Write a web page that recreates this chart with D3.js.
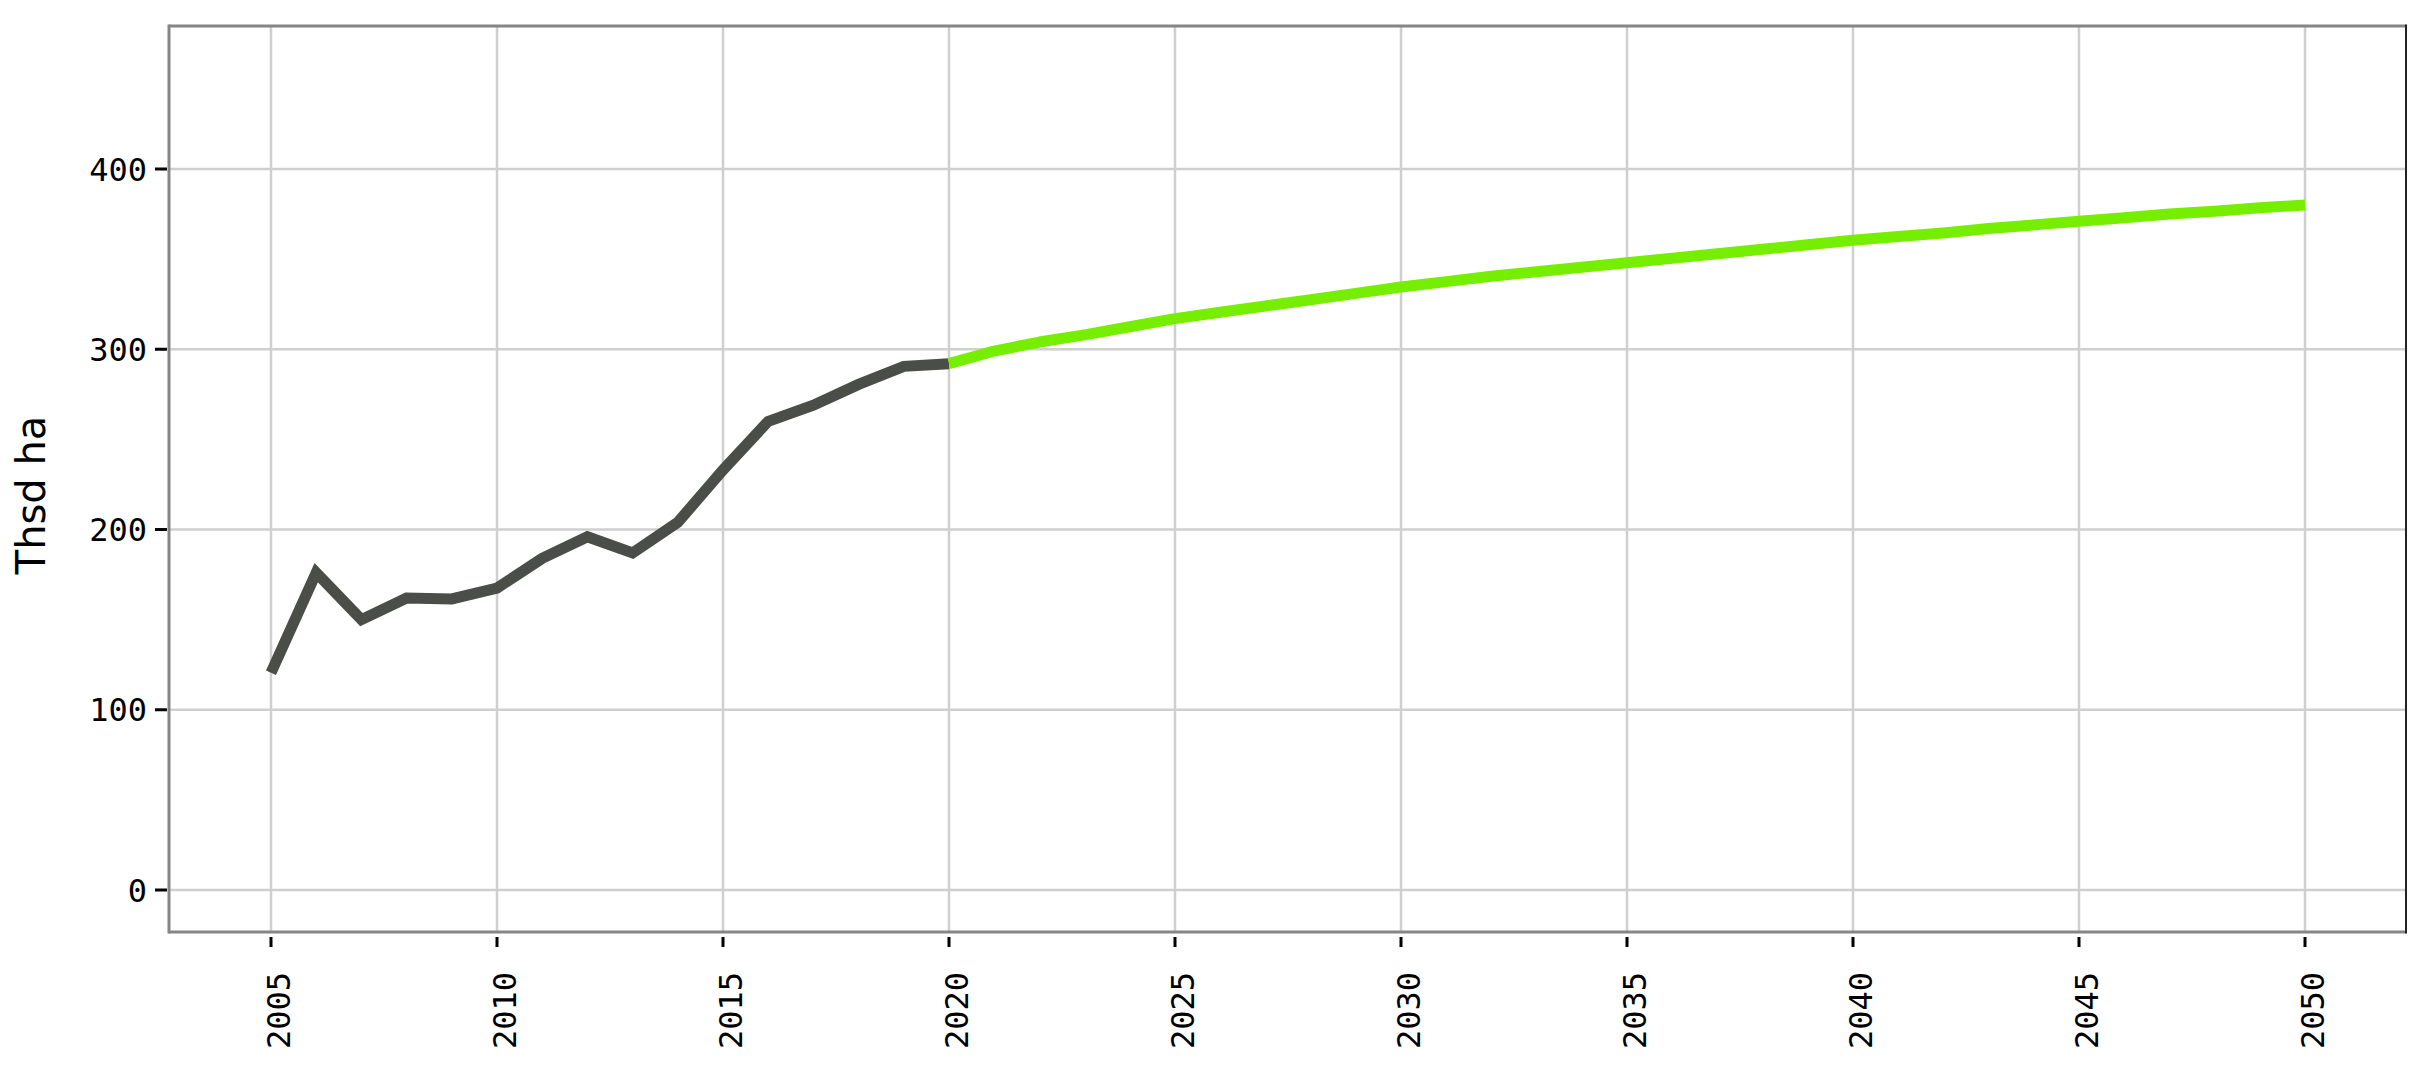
<!DOCTYPE html>
<html>
<head>
<meta charset="utf-8">
<script src="https://cdn.jsdelivr.net/npm/d3@7"></script>
<style>
  html, body { margin: 0; padding: 0; background: #ffffff; }
  svg { display: block; }
</style>
</head>
<body>
<script>
// ---- data ----
const histYears = [2005,2006,2007,2008,2009,2010,2011,2012,2013,2014,2015,2016,2017,2018,2019,2020];
const histValues = [120.5,176,150,162,161.5,167.5,184,196,187,204,233,260,269,280.5,290.5,292];
const projYears = [2020,2021,2022,2023,2024,2025,2026,2027,2028,2029,2030,2031,2032,2033,2034,2035,2036,2037,2038,2039,2040,2041,2042,2043,2044,2045,2046,2047,2048,2049,2050];
const projValues = [292,299,304,308,312.5,317,320.5,324,327.5,331,334.5,337.5,340.5,343,345.5,348,350.5,353,355.5,358,360.5,362.5,364.5,367,369,371,373,375,376.5,378.5,380];
const xTicks = [2005,2010,2015,2020,2025,2030,2035,2040,2045,2050];
const yTicks = [0,100,200,300,400];
const yLabel = "Thsd ha";

// ---- layout ----
const W = 2425, H = 1066;
const plot = {left: 169, top: 26, right: 2406, bottom: 932};

const svg = d3.select("body").append("svg").attr("width", W).attr("height", H);

const x = d3.scaleLinear().domain([2005, 2050]).range([271, 2305]);
const y = d3.scaleLinear().domain([0, 400]).range([890, 169]);

// gridlines
const grid = svg.append("g");
grid.selectAll("line.v").data(xTicks).enter().append("line")
  .attr("x1", d => x(d)).attr("x2", d => x(d))
  .attr("y1", plot.top).attr("y2", plot.bottom)
  .attr("stroke", "#cfcfcf").attr("stroke-width", 2.5);
grid.selectAll("line.h").data(yTicks).enter().append("line")
  .attr("x1", plot.left).attr("x2", plot.right)
  .attr("y1", d => y(d)).attr("y2", d => y(d))
  .attr("stroke", "#cfcfcf").attr("stroke-width", 2.5);

// lines
const line = d3.line().x(d => x(d[0])).y(d => y(d[1]));
svg.append("path")
  .datum(histYears.map((yr, i) => [yr, histValues[i]]))
  .attr("d", line).attr("fill", "none")
  .attr("stroke", "#4b4d49").attr("stroke-width", 11)
  .attr("stroke-linejoin", "miter").attr("stroke-linecap", "butt");
svg.append("path")
  .datum(projYears.map((yr, i) => [yr, projValues[i]]))
  .attr("d", line).attr("fill", "none")
  .attr("stroke", "#76ee00").attr("stroke-width", 11)
  .attr("stroke-linejoin", "round").attr("stroke-linecap", "butt");

// frame
svg.append("line").attr("x1", plot.left).attr("x2", plot.right).attr("y1", plot.top).attr("y2", plot.top)
  .attr("stroke", "#858585").attr("stroke-width", 3);
svg.append("line").attr("x1", plot.left).attr("x2", plot.right).attr("y1", plot.bottom).attr("y2", plot.bottom)
  .attr("stroke", "#858585").attr("stroke-width", 3);
svg.append("line").attr("x1", plot.left).attr("x2", plot.left).attr("y1", plot.top - 1.5).attr("y2", plot.bottom + 1.5)
  .attr("stroke", "#858585").attr("stroke-width", 3);
svg.append("line").attr("x1", plot.right).attr("x2", plot.right).attr("y1", plot.top - 1.5).attr("y2", plot.bottom + 1.5)
  .attr("stroke", "#222222").attr("stroke-width", 2);

// y axis ticks + labels
const yAx = svg.append("g");
yAx.selectAll("line").data(yTicks).enter().append("line")
  .attr("x1", 155).attr("x2", 167)
  .attr("y1", d => y(d)).attr("y2", d => y(d))
  .attr("stroke", "#000").attr("stroke-width", 3);
yAx.selectAll("text").data(yTicks).enter().append("text")
  .attr("x", 147).attr("y", d => y(d) + 11.5)
  .attr("text-anchor", "end")
  .style("font-family", "'DejaVu Sans Mono', monospace").style("font-size", "32px")
  .attr("fill", "#000").text(d => d);

// x axis ticks + labels
const xAx = svg.append("g");
xAx.selectAll("line").data(xTicks).enter().append("line")
  .attr("x1", d => x(d)).attr("x2", d => x(d))
  .attr("y1", 937).attr("y2", 947)
  .attr("stroke", "#000").attr("stroke-width", 3);
xAx.selectAll("text").data(xTicks).enter().append("text")
  .attr("transform", d => `translate(${x(d)},972) rotate(-90)`)
  .attr("dy", 19)
  .attr("text-anchor", "end")
  .style("font-family", "'DejaVu Sans Mono', monospace").style("font-size", "32px")
  .attr("fill", "#000").text(d => d);

// y axis title
svg.append("text")
  .attr("transform", "translate(45,495) rotate(-90)")
  .attr("text-anchor", "middle")
  .style("font-family", "'DejaVu Sans', sans-serif").style("font-size", "40px")
  .attr("fill", "#000").text(yLabel);
</script>
</body>
</html>
